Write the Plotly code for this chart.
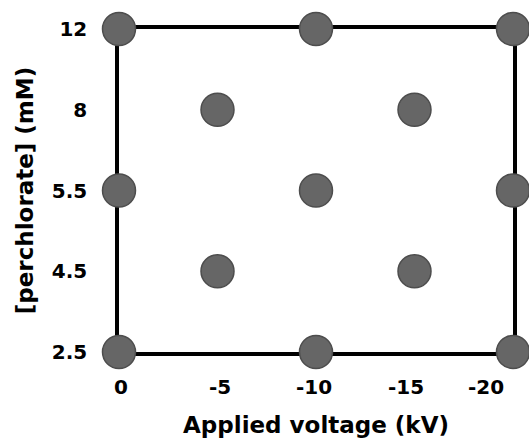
import plotly.graph_objects as go

# Design points: applied voltage (kV) vs perchlorate concentration (mM)
voltage_kv = [0, -10, -20, -5, -15, 0, -10, -20, -5, -15, 0, -10, -20]
perchlorate_mm = ["12", "12", "12", "8", "8", "5.5", "5.5", "5.5",
                  "4.5", "4.5", "2.5", "2.5", "2.5"]

x_tick_vals = [0, -5, -10, -15, -20]
x_tick_text = ["0", "-5", "-10", "-15", "-20"]
y_levels = ["2.5", "4.5", "5.5", "8", "12"]

# horizontal nudges (px) for the voltage labels; the last one is pulled
# inward so it stays inside the page
x_label_shift = [2, 2, -2, -9, -27]

FONT = "DejaVu Sans"
tick_font = dict(family=FONT, size=20, color="black", weight="bold")
title_font = dict(family=FONT, size=23, color="black", weight="bold")

fig = go.Figure(
    go.Scatter(
        x=voltage_kv,
        y=perchlorate_mm,
        mode="markers",
        cliponaxis=False,
        marker=dict(size=33, color="#666666",
                    line=dict(color="#4d4d4d", width=1.5)),
        hoverinfo="x+y",
    )
)

axis_common = dict(
    showline=True, linecolor="black", linewidth=3.5, mirror=True,
    showgrid=False, zeroline=False, ticks="", layer="below traces",
)

fig.update_xaxes(
    range=[0, -20],
    showticklabels=False,
    title=dict(text="Applied voltage (kV)", standoff=63, font=title_font),
    **axis_common,
)

fig.update_yaxes(
    type="category",
    categoryorder="array",
    categoryarray=y_levels,
    range=[0, len(y_levels) - 1],
    tickfont=tick_font,
    ticklabelstandoff=24,
    title=dict(text="[perchlorate] (mM)", standoff=13, font=title_font),
    **axis_common,
)

# voltage tick labels
for val, txt, dx in zip(x_tick_vals, x_tick_text, x_label_shift):
    fig.add_annotation(
        x=val, y=0, xref="x", yref="paper",
        text=txt, showarrow=False, font=tick_font,
        xanchor="center", yanchor="middle", xshift=dx, yshift=-35,
    )

fig.update_layout(
    width=529, height=443,
    margin=dict(l=119, r=13, t=29, b=91),
    paper_bgcolor="white", plot_bgcolor="white",
    showlegend=False,
)

fig.write_html("out.html")
